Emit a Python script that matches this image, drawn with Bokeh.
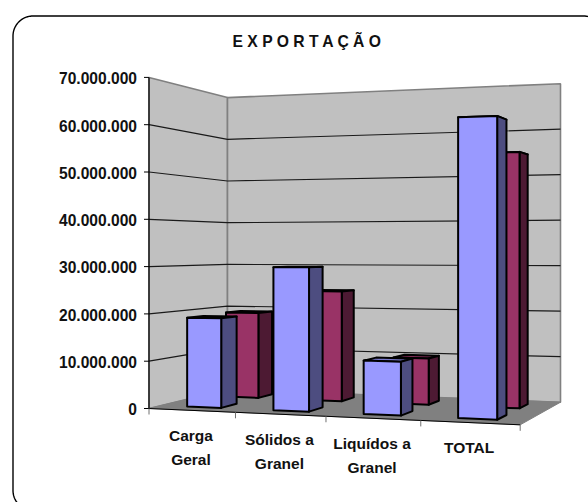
import numpy as np
from bokeh.plotting import figure
from bokeh.models import ColumnDataSource, Range1d
from bokeh.core.properties import value
from bokeh.embed import file_html
from bokeh.resources import INLINE

# ---- data ----
title_text = "E X P O R T A Ç Ã O"
categories = [["Carga", "Geral"], ["Sólidos a", "Granel"], ["Liquídos a", "Granel"], ["TOTAL"]]
series_blue = [19.0, 29.9, 10.9, 59.9]   # millions
series_red = [19.2, 24.3, 10.0, 54.2]    # millions
tick_values = [0, 10, 20, 30, 40, 50, 60, 70]
tick_labels = ["0", "10.000.000", "20.000.000", "30.000.000", "40.000.000",
               "50.000.000", "60.000.000", "70.000.000"]

# ---- 3D view calibration (page pixels) ----
P0, P1, P2, P3 = (148.5, 408.0), (519.7, 424.3), (560.0, 401.7), (227.0, 389.0)
S00, S01, S11 = 4.73, 4.17, 4.55  # pixels per million at three floor corners
BLUE, BLUE_SIDE, BLUE_TOP = "#9999FF", "#4D4D80", "#7A7ACC"
RED, RED_SIDE, RED_TOP = "#993366", "#4D1A33", "#7A2952"
FONT = "Liberation Sans"


def make_proj():
    dx1, dy1 = P1[0] - P2[0], P1[1] - P2[1]
    dx2, dy2 = P3[0] - P2[0], P3[1] - P2[1]
    sx, sy = P0[0] - P1[0] + P2[0] - P3[0], P0[1] - P1[1] + P2[1] - P3[1]
    det = dx1 * dy2 - dx2 * dy1
    g = (sx * dy2 - dx2 * sy) / det
    h = (dx1 * sy - sx * dy1) / det
    ax, bx = P1[0] - P0[0] + g * P1[0], P3[0] - P0[0] + h * P3[0]
    ay, by = P1[1] - P0[1] + g * P1[1], P3[1] - P0[1] + h * P3[1]
    ia, ib, ic = 1 / S00, 1 / S11 - 1 / S01, 1 / S01 - 1 / S00

    def proj(u, v, z):
        w = g * u + h * z + 1
        s = 1 / (ia + ib * u + ic * z)
        return (ax * u + bx * z + P0[0]) / w, (ay * u + by * z + P0[1]) / w - v * s
    return proj


proj = make_proj()


def poly(*pts):
    xy = [proj(*q) for q in pts]
    return [a for a, _ in xy], [b for _, b in xy]


p = figure(width=588, height=502, output_backend="svg", toolbar_location=None,
           x_range=Range1d(0, 588), y_range=Range1d(502, 0), min_border=0,
           outline_line_color=None, background_fill_color="white",
           border_fill_color="white")
p.xaxis.visible = False
p.yaxis.visible = False
p.xgrid.visible = False
p.ygrid.visible = False

# rounded frame
r = 20
L, T, R, B = 12.5, 15.5, 603.0, 510.0
t = np.linspace(0, np.pi / 2, 24)
fx = np.concatenate([L + r - r * np.cos(t), R - r + r * np.sin(t),
                     R - r + r * np.cos(t), L + r - r * np.sin(t), [L]])
fy = np.concatenate([T + r - r * np.sin(t), T + r - r * np.cos(t),
                     B - r + r * np.sin(t), B - r + r * np.cos(t), [T + r]])
p.line(fx, fy, line_color="black", line_width=1.4)

top = tick_values[-1]
# walls and floor
wx, wy = poly((0, 0, 0), (0, 0, 1), (0, top, 1), (0, top, 0))
p.patch(wx, wy, fill_color="#C0C0C0", line_color="#808080", line_width=1.6)
wx, wy = poly((0, 0, 1), (1, 0, 1), (1, top, 1), (0, top, 1))
p.patch(wx, wy, fill_color="#C0C0C0", line_color="#808080", line_width=1.6)
wx, wy = poly((0, 0, 0), (1, 0, 0), (1, 0, 1), (0, 0, 1))
p.patch(wx, wy, fill_color="#808080", line_color="#808080", line_width=1)

# gridlines
gx, gy = [], []
for v in tick_values[1:-1]:
    a, b = poly((0, v, 0), (0, v, 1), (1, v, 1))
    gx.append(a)
    gy.append(b)
p.multi_line(gx, gy, line_color="#1a1a1a", line_width=1.2)

# axis lines and ticks
a, b = poly((0, 0, 0), (0, top, 0))
p.line(a, b, line_color="black", line_width=1.2)
a, b = poly((0, 0, 0), (1, 0, 0))
p.line(a, b, line_color="black", line_width=1)
ty = [proj(0, v, 0) for v in tick_values]
p.segment([q[0] - 5 for q in ty], [q[1] for q in ty], [q[0] for q in ty], [q[1] for q in ty],
          line_color="black", line_width=1)
n = len(categories)
ex = [proj(i / n, 0, 0) for i in range(n + 1)]
p.segment([q[0] for q in ex], [q[1] for q in ex], [q[0] for q in ex], [q[1] + 6 for q in ex],
          line_color="#707070", line_width=1)


# bars
def bar(i, val, z0, z1, front, side, topc):
    u0, u1 = (i + 0.3) / n, (i + 0.7) / n
    xs, ys = [], []
    for face in [
        [(u0, val, z0), (u0, val, z1), (u1, val, z1), (u1, val, z0)],
        [(u1, 0, z0), (u1, 0, z1), (u1, val, z1), (u1, val, z0)],
        [(u0, 0, z0), (u1, 0, z0), (u1, val, z0), (u0, val, z0)],
    ]:
        a, b = poly(*face)
        xs.append(a)
        ys.append(b)
    src = ColumnDataSource(dict(x=xs, y=ys, c=[topc, side, front]))
    p.patches("x", "y", source=src, fill_color="c", line_color="black", line_width=2,
              line_join="round")


for i, val in enumerate(series_red):
    bar(i, val, 0.65, 0.85, RED, RED_SIDE, RED_TOP)
for i, val in enumerate(series_blue):
    bar(i, val, 0.15, 0.35, BLUE, BLUE_SIDE, BLUE_TOP)

# texts
p.text([q[0] - 12 for q in ty], [q[1] + 0.8 for q in ty], text=tick_labels,
       text_font=value(FONT), text_font_style="bold", text_font_size="15.6px",
       text_align="right", text_baseline="middle", text_color="#111111")

lx, ly, lt = [], [], []
for i, lines in enumerate(categories):
    cx, cy = proj((i + 0.5) / n, 0, 0)
    for j, s in enumerate(lines):
        lx.append(cx - 0.8)
        ly.append(cy + 25 + j * 24)
        lt.append(s)
p.text(lx, ly, text=lt, text_font=value(FONT), text_font_style="bold",
       text_font_size="15.5px", text_align="center", text_baseline="middle",
       text_color="#111111")

p.text([307], [41], text=[title_text], text_font=value(FONT), text_font_style="bold",
       text_font_size="15.7px", text_align="center", text_baseline="middle",
       text_color="#111111")

open("out.html", "w").write(file_html(p, INLINE))
